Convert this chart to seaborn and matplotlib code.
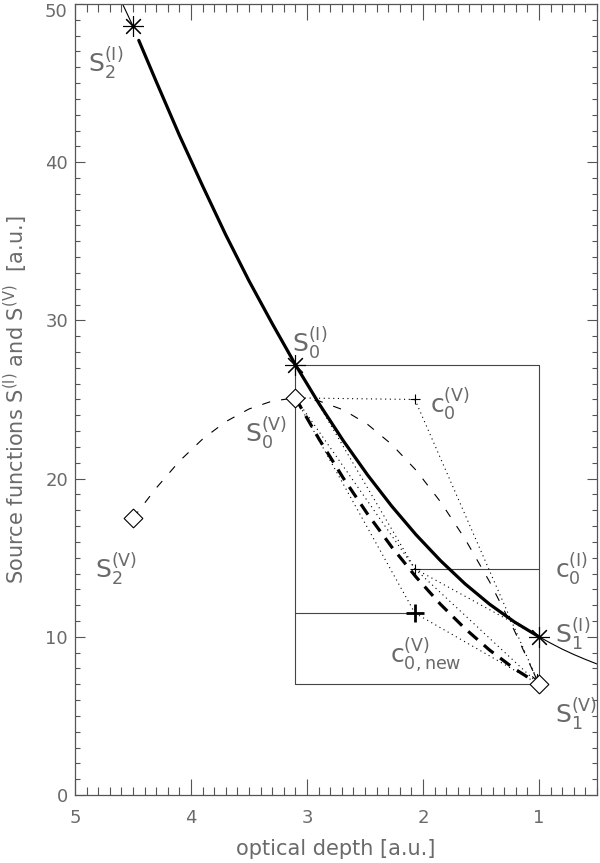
import matplotlib
matplotlib.use('Agg')
import matplotlib.pyplot as plt
from matplotlib.ticker import MultipleLocator, FuncFormatter
import seaborn as sns

# optical depth of the three grid points: upwind (2), current (0), downwind (1)
tau_pts = [4.5, 3.1, 1.0]
S_I = [48.6, 27.2, 10.0]
S_V = [17.5, 25.1, 7.0]

# control points, all at the same optical depth
tau_c = 2.07
C0_I = 14.3
C0_V = 25.0
C0_V_new = 11.5

# underlying intensity source function (thin solid, outside the interpolant)
true_top_tau = [4.59, 4.5]
true_top_S = [50.0, 48.6]
true_bot_tau = [1.0, 0.9, 0.8, 0.7, 0.6, 0.5]
true_bot_S = [10.0, 9.6, 9.22, 8.88, 8.57, 8.28]

# thick solid: interpolated S(I)
interp_I_up_tau = [4.45, 4.3, 4.1, 3.9, 3.7, 3.5, 3.3, 3.1]
interp_I_up = [47.7, 45.1, 41.7, 38.5, 35.4, 32.5, 29.8, 27.2]
seg_tau = [3.1, 2.894, 2.686, 2.478, 2.27, 2.06, 1.85, 1.638, 1.426, 1.214, 1.0]
interp_I_dn = [27.2, 24.71, 22.38, 20.23, 18.26, 16.45, 14.82, 13.35, 12.06, 10.95, 10.0]

# thin dashed: S(V) with the original control point
orig_V_up_tau = [4.5, 4.3, 4.1, 3.9, 3.7, 3.5, 3.3, 3.1]
orig_V_up = [17.5, 19.4, 21.1, 22.5, 23.6, 24.4, 24.9, 25.1]
orig_V_dn = [25.1, 24.90, 24.34, 23.43, 22.16, 20.53, 18.54, 16.19, 13.48, 10.42, 7.0]

# thick dashed: S(V) with the corrected control point
new_V_dn = [25.1, 22.47, 20.02, 17.76, 15.68, 13.78, 12.06, 10.52, 9.16, 7.99, 7.0]

y_ticks = [0, 10, 20, 30, 40, 50]

TXT = '#6a6a6a'
FRAME = '#555555'

sns.set_theme(style='ticks')
plt.rcParams['font.family'] = ['DejaVu Sans']
plt.rcParams['mathtext.fontset'] = 'dejavusans'
plt.rcParams['lines.scale_dashes'] = False

fig = plt.figure(figsize=(6.0, 8.63), dpi=100)
ax = fig.add_axes([0.125, 0.0788, 0.87, 0.9166])


def curve(x, y, **kw):
    sns.lineplot(x=x, y=y, sort=False, estimator=None, ax=ax, color='black', **kw)


dot = dict(lw=0.8, linestyle=(0, (0.8, 2.6)))

# rectangle and level lines
t2, t0, t1 = tau_pts
box = dict(color='#444444', lw=0.8)
ax.plot([t0, t1, t1, t0, t0], [S_I[1], S_I[1], S_V[2], S_V[2], S_I[1]], **box)
ax.plot([tau_c, t1], [C0_I, C0_I], **box)
ax.plot([t0, tau_c], [C0_V_new, C0_V_new], **box)

# tangent polygons
curve([t0, tau_c], [S_V[1], C0_V], **dot)
curve([tau_c, t1], [C0_V, S_V[2]], **dot)
curve([t0, tau_c], [S_I[1], C0_I], **dot)
curve([tau_c, t1], [C0_I, S_I[2]], **dot)
curve([t0, tau_c], [S_V[1], C0_I], **dot)
curve([tau_c, t1], [C0_I, S_V[2]], **dot)
curve([t0, tau_c], [S_V[1], C0_V_new], **dot)
curve([tau_c, t1], [C0_V_new, S_V[2]], **dot)

# curves
curve(true_top_tau, true_top_S, lw=0.8)
curve(true_bot_tau, true_bot_S, lw=0.8)
curve(interp_I_up_tau, interp_I_up, lw=2.3)
curve(seg_tau, interp_I_dn, lw=2.3)
curve(orig_V_up_tau, orig_V_up, lw=0.8, linestyle=(0, (6, 8)))
curve(seg_tau, orig_V_dn, lw=0.8, linestyle=(0, (6, 8)))
curve(seg_tau, new_V_dn, lw=2.3, linestyle=(0, (9, 6)))

ax.annotate('', xy=(seg_tau[-1], orig_V_dn[-1]),
            xytext=(seg_tau[-1] + 0.2 * (seg_tau[-2] - seg_tau[-1]),
                    orig_V_dn[-1] + 0.2 * (orig_V_dn[-2] - orig_V_dn[-1])),
            arrowprops=dict(arrowstyle='->', lw=0.8, color='black', mutation_scale=10,
                            shrinkA=0, shrinkB=2))

# markers
ax.plot(tau_pts, S_V, linestyle='none', marker=(4, 0, 0), ms=13.5, mew=0.8,
        mfc='white', mec='black', zorder=5)
ax.plot(tau_pts, S_I, linestyle='none', marker=(8, 2, 0), ms=15, mew=0.8,
        color='black', zorder=6)
ax.plot([tau_c, tau_c], [C0_V, C0_I], linestyle='none', marker='+', ms=7, mew=0.8,
        color='black', zorder=6)
ax.plot([tau_c], [C0_V_new], linestyle='none', marker='+', ms=13, mew=2.0,
        color='black', zorder=6)

labels = [
    (4.888, 45.7, r'$\mathregular{S_2^{(I)}}$'),
    (3.129, 28.0, r'$\mathregular{S_0^{(I)}}$'),
    (3.534, 22.3, r'$\mathregular{S_0^{(V)}}$'),
    (4.828, 13.7, r'$\mathregular{S_2^{(V)}}$'),
    (1.94, 24.15, r'$\mathregular{c_0^{(V)}}$'),
    (0.862, 13.7, r'$\mathregular{c_0^{(I)}}$'),
    (0.862, 9.6, r'$\mathregular{S_1^{(I)}}$'),
    (0.862, 4.55, r'$\mathregular{S_1^{(V)}}$'),
    (2.284, 8.34, r'$\mathregular{c_{0,new}^{(V)}}$'),
]
for x, y, s in labels:
    ax.text(x, y, s, fontsize=18, color=TXT, ha='left', va='baseline', zorder=7)

ax.set_xlim(5, 0.5)
ax.set_ylim(0, 50)
ax.xaxis.set_major_locator(MultipleLocator(1))
ax.xaxis.set_minor_locator(MultipleLocator(0.1))
ax.set_yticks(y_ticks)
ax.yaxis.set_minor_locator(MultipleLocator(1))
# the top label is drawn separately, just below the frame
ax.yaxis.set_major_formatter(FuncFormatter(lambda v, p: '' if v == y_ticks[-1] else f'{v:g}'))
ax.annotate(f'{y_ticks[-1]:g}', xy=(0, y_ticks[-1]), xycoords=('axes fraction', 'data'),
            xytext=(-5.5, 1), textcoords='offset points', ha='right', va='top',
            fontsize=13, color=TXT)

for sp in ax.spines.values():
    sp.set_visible(True)
    sp.set_color(FRAME)
    sp.set_linewidth(0.9)

ax.tick_params(axis='both', which='both', direction='in', top=True, right=True,
               color=FRAME, width=0.8, labelcolor=TXT, labelsize=13)
ax.tick_params(axis='x', which='major', length=11.3, pad=10)
ax.tick_params(axis='x', which='minor', length=5.7)
ax.tick_params(axis='y', which='major', length=7.5, pad=5)
ax.tick_params(axis='y', which='minor', length=3.8)

ax.set_xlabel('optical depth [a.u.]', fontsize=15, color=TXT)
ax.set_ylabel(r'Source functions $\mathregular{S^{(I)}}$ and $\mathregular{S^{(V)}}$  [a.u.]',
              fontsize=15, color=TXT)
ax.xaxis.set_label_coords(0.5, -0.056)
ax.yaxis.set_label_coords(-0.086, 0.5)
ax.grid(False)

fig.savefig('out.png', dpi=100)
